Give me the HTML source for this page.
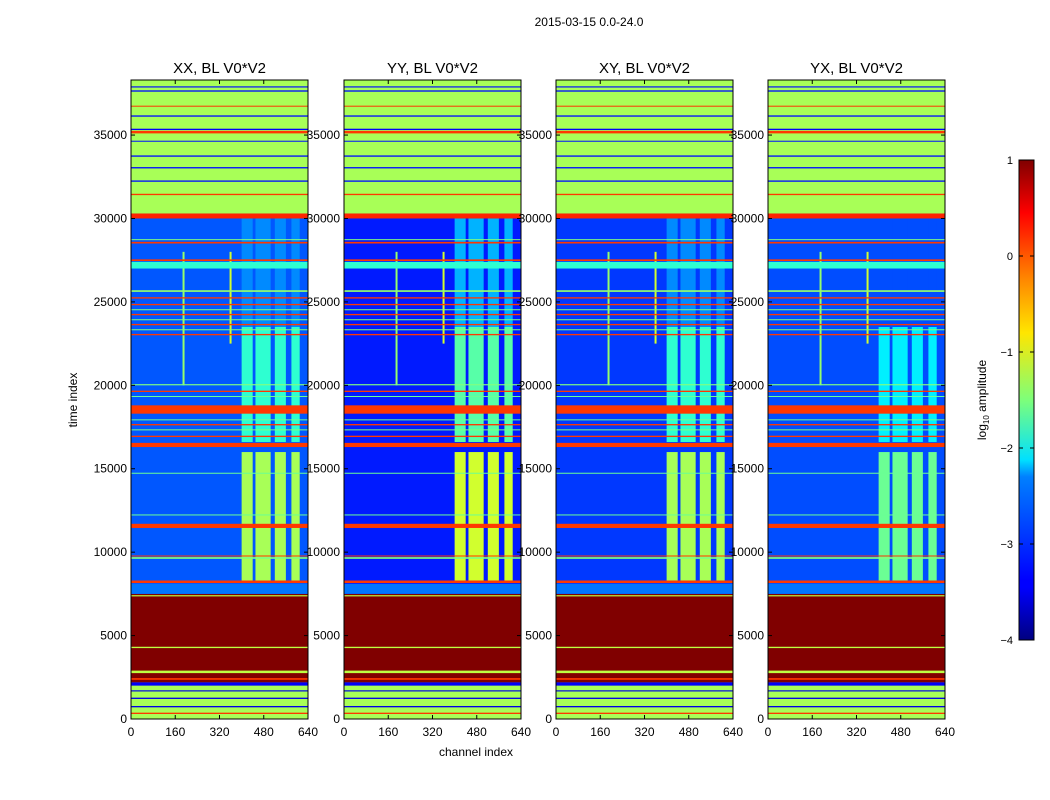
<!DOCTYPE html>
<html><head><meta charset="utf-8">
<style>
body{margin:0;background:#fff;}
svg{display:block;font-family:"Liberation Sans",sans-serif;}
</style></head>
<body>
<svg id="fig" width="1050" height="800" xmlns="http://www.w3.org/2000/svg">
<defs>
<linearGradient id="jet" x1="0" y1="1" x2="0" y2="0">
<stop offset="0" stop-color="#000080"/><stop offset="0.11" stop-color="#0000ff"/>
<stop offset="0.125" stop-color="#0000ff"/><stop offset="0.34" stop-color="#0080ff"/>
<stop offset="0.375" stop-color="#00e0ff"/><stop offset="0.5" stop-color="#7dff7a"/>
<stop offset="0.64" stop-color="#ffe600"/><stop offset="0.76" stop-color="#ff8000"/>
<stop offset="0.89" stop-color="#ff0000"/><stop offset="1" stop-color="#800000"/>
</linearGradient>
</defs>
<text x="589" y="26" font-size="12" text-anchor="middle">2015-03-15 0.0-24.0</text>
<text x="476" y="756" font-size="12" text-anchor="middle">channel index</text>
<text transform="translate(77,400) rotate(-90)" font-size="12" text-anchor="middle">time index</text>
<g id="panels"></g>
<g>
<rect x="1019" y="160" width="15" height="480" fill="url(#jet)" stroke="#000" stroke-width="1"/>
<g id="cbticks"></g>
<text transform="translate(986,400) rotate(-90)" font-size="12" text-anchor="middle">log<tspan font-size="8" dy="3">10</tspan><tspan dy="-3"> amplitude</tspan></text>
</g>
</svg>
<script>
const panelTitles=["XX, BL V0*V2","YY, BL V0*V2","XY, BL V0*V2","YX, BL V0*V2"];
const panelBase=[-2.95,-3.25,-3.1,-3.0];
const panelStripe=[-1.3,-1.1,-1.3,-1.6];
const xTicks=[0,160,320,480,640];
const yTicks=[0,5000,10000,15000,20000,25000,30000,35000];
const cbTicks=[1,0,-1,-2,-3,-4];
const stripeCols=[[400,440],[450,505],[520,560],[580,610]];
const stripeTimes=[[8300,16000,0],[16600,23500,-0.6],[23500,30000,-1.4]];
const bands=[
[0,2200,-1.3],[300,380,0.1],[700,780,-3.5],[1200,1280,-3.5],[1650,1720,-3.5],[2000,2200,-3.4],
[2200,7500,1.0],[2350,2450,0.1],[2750,2900,-1.2],[4250,4330,-1.2],[7350,7420,-1.2],
[7500,8100,-2.8],[8150,8300,0.1],[9600,9700,-1.5],[9750,9800,0.1],
[11450,11700,0.1],[12200,12260,-1.6],[14700,14760,-1.6],
[16300,16550,0.1],[16900,16980,0.1],[17300,17360,-1.5],[17600,17680,0.1],[17900,17960,-1.6],
[18300,18800,0.1],[19300,19360,-1.6],[19600,19680,0.1],[20000,20070,-1.5],
[23000,23080,0.1],[23300,23360,-1.5],[23600,23680,0.1],[23900,23960,-1.5],[24200,24280,0.1],
[24500,24560,-1.5],[24800,24880,0.1],[25200,25280,0.1],[25600,25700,-1.4],
[27000,27400,-1.9],[27450,27550,0.1],[28500,28600,0.1],[28700,28760,-1.5],
[30000,30300,0.2],[30300,38300,-1.3],[31400,31480,0.1],[32200,32280,-3.3],[33000,33080,-3.3],
[33700,33780,-3.3],[34600,34660,-3.3],[35100,35250,0.1],[35300,35380,-3.4],
[36100,36180,-3.3],[36700,36760,0.1],[37600,37680,-3.3],[37850,37920,-3.3]
];
const spikes=[[190,20000,28000,-1.4],[360,22500,28000,-1.1]];

function jet(v){
  let t=Math.max(0,Math.min(1,(v+4)/5));
  const f=x=>Math.round(255*Math.max(0,Math.min(1,x)));
  return `rgb(${f(1.5-Math.abs(4*t-3))},${f(1.5-Math.abs(4*t-2))},${f(1.5-Math.abs(4*t-1))})`;
}
const NS="http://www.w3.org/2000/svg";
const lefts=[131,344,556,768], W=177, TOP=80, BOT=719;
const yMax=38300, xMax=640;
function mk(tag,attrs,parent){const e=document.createElementNS(NS,tag);for(const k in attrs)e.setAttribute(k,attrs[k]);parent.appendChild(e);return e;}
const panels=document.getElementById('panels');
lefts.forEach((L,p)=>{
  const xs=c=>L+c/xMax*W;
  const ys=t=>BOT-t/yMax*(BOT-TOP);
  const g=mk('g',{},panels);
  
  
  const bg=mk('rect',{x:L,y:TOP,width:W,height:BOT-TOP,fill:jet(panelBase[p])},g);
  
  
  stripeTimes.forEach(st=>{
    stripeCols.forEach(sc=>{
      const r=mk('rect',{x:xs(sc[0]),y:ys(st[1]),width:xs(sc[1])-xs(sc[0]),height:ys(st[0])-ys(st[1]),fill:jet(panelStripe[p]+st[2])},g);
      
      
    });
  });
  spikes.forEach(s=>{
    const r=mk('rect',{x:xs(s[0])-1,y:ys(s[2]),width:2,height:ys(s[1])-ys(s[2]),fill:jet(s[3])},g);
    
    
  });
  bands.forEach(b=>{
    const r=mk('rect',{x:L,y:ys(b[1]),width:W,height:Math.max(1,ys(b[0])-ys(b[1])),fill:jet(b[2])},g);
    
    
  });
  const fr=mk('rect',{x:L,y:TOP,width:W,height:BOT-TOP,fill:'none',stroke:'#000','stroke-width':1},g);
  
  
  const tt=mk('text',{x:L+W/2,y:73,'font-size':15,'text-anchor':'middle'},g);
  tt.textContent=panelTitles[p];
  
  
  xTicks.forEach(v=>{
    mk('line',{x1:xs(v),x2:xs(v),y1:BOT,y2:BOT-4,stroke:'#000'},g);
    mk('line',{x1:xs(v),x2:xs(v),y1:TOP,y2:TOP+4,stroke:'#000'},g);
    const t=mk('text',{x:xs(v),y:BOT+17,'font-size':12,'text-anchor':'middle'},g);
    t.textContent=v;
    
    
  });
  yTicks.forEach(v=>{
    mk('line',{x1:L,x2:L+4,y1:ys(v),y2:ys(v),stroke:'#000'},g);
    mk('line',{x1:L+W,x2:L+W-4,y1:ys(v),y2:ys(v),stroke:'#000'},g);
    const t=mk('text',{x:L-4,y:ys(v)+4,'font-size':12,'text-anchor':'end'},g);
    t.textContent=v;
    
    
  });
});
const cb=document.getElementById('cbticks');
cbTicks.forEach(v=>{
  const y=640-(v+4)/5*480;
  mk('line',{x1:1019,x2:1023,y1:y,y2:y,stroke:'#000'},cb);
  mk('line',{x1:1034,x2:1030,y1:y,y2:y,stroke:'#000'},cb);
  const t=mk('text',{x:1013,y:y+4,'font-size':11,'text-anchor':'end'},cb);
  t.textContent=v<0?'\u2212'+(-v):String(v);
  
  
});
</script>
</body></html>
